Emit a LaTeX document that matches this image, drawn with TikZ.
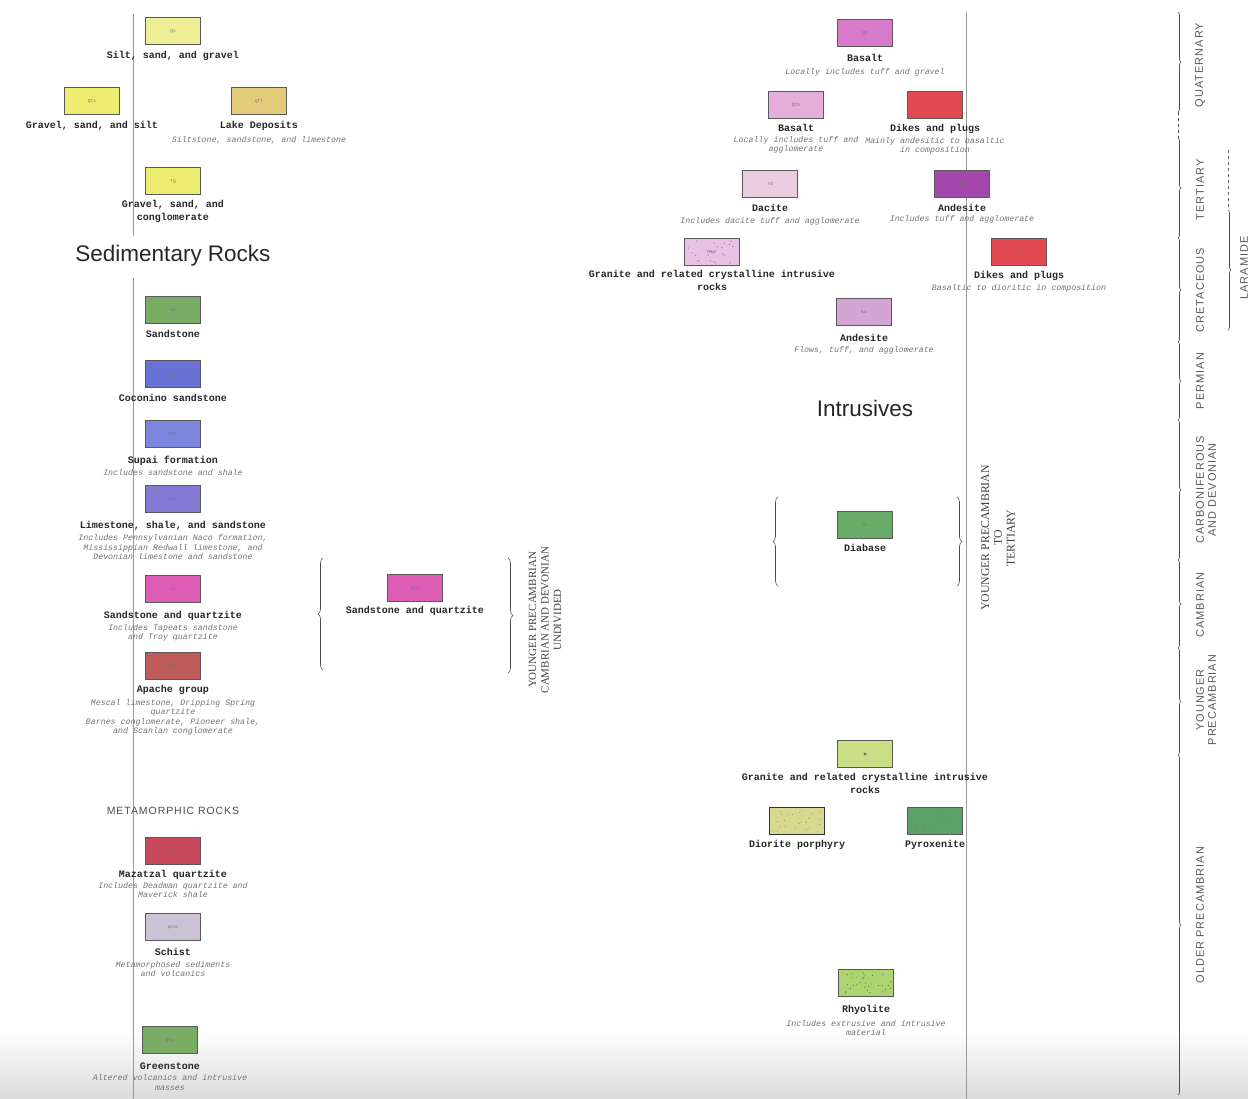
\documentclass[tikz,border=0pt]{standalone}
\usepackage{fontspec}
\setmainfont{Liberation Serif}
\newfontfamily\legendmono{Liberation Mono}
\newfontfamily\capsans[LetterSpace=9]{Liberation Sans}
\newfontfamily\headsans{Liberation Sans}
\usetikzlibrary{positioning,calc,decorations.pathreplacing}

\definecolor{qsyel}{RGB}{238,238,150}
\definecolor{qtyel}{RGB}{236,236,112}
\definecolor{laketan}{RGB}{226,204,122}
\definecolor{ssgreen}{RGB}{122,172,102}
\definecolor{cocblue}{RGB}{104,114,212}
\definecolor{supblue}{RGB}{124,134,222}
\definecolor{limeblue}{RGB}{132,122,212}
\definecolor{tapmag}{RGB}{220,92,182}
\definecolor{apred}{RGB}{190,92,92}
\definecolor{mazred}{RGB}{200,72,92}
\definecolor{schgray}{RGB}{204,194,214}
\definecolor{basmag}{RGB}{216,122,202}
\definecolor{baspink}{RGB}{228,174,218}
\definecolor{dikered}{RGB}{226,72,82}
\definecolor{dacpink}{RGB}{236,204,226}
\definecolor{andpurp}{RGB}{162,72,172}
\definecolor{granpink}{RGB}{232,194,228}
\definecolor{andpink}{RGB}{212,164,212}
\definecolor{diagreen}{RGB}{104,172,104}
\definecolor{grangreen}{RGB}{202,222,134}
\definecolor{dioyel}{RGB}{216,216,142}
\definecolor{pyrgreen}{RGB}{92,162,104}
\definecolor{rhygreen}{RGB}{172,212,112}

\tikzset{
  unitbox/.style={draw=black!65, line width=0.7pt, minimum width=55pt,
    minimum height=27pt, inner sep=0pt, text=black!55,
    font=\legendmono\fontsize{4.5}{5}\selectfont},
  unitname/.style={inner sep=0.5pt, text=black!85, align=center,
    font=\legendmono\bfseries\fontsize{10}{12.5}\selectfont},
  unitnote/.style={inner sep=0.3pt, text=black!55, align=center,
    font=\legendmono\itshape\fontsize{8.3}{9.6}\selectfont},
  agebrace/.style={decorate, decoration={brace, amplitude=5pt},
    draw=black!70, line width=0.6pt},
  agetext/.style={rotate=90, align=center, text=black!75,
    font=\fontsize{11}{12.5}\selectfont},
  periodtext/.style={rotate=90, align=center, text=black!65,
    font=\capsans\fontsize{11}{12}\selectfont},
  heading/.style={font=\headsans\fontsize{22.5}{22.5}\selectfont, text=black!85},
  guide/.style={draw=black!40, line width=0.6pt}
}

\begin{document}
\begin{tikzpicture}[x=1pt, y=-1pt]
\useasboundingbox (0,0) rectangle (1248,1099);
\shade[top color=white, bottom color=black!14] (0,1030) rectangle (1248,1099);

% guide lines
\draw[guide] (133,14) -- (133,236);
\draw[guide] (133,278) -- (133,1099);
\draw[guide] (966,12) -- (966,1099);

% sedimentary rocks
\node[unitbox, fill=qsyel] (qs) at (173,31) {Qs};
\node[unitname, below=6pt of qs] (qsname) {Silt, sand, and gravel};

\node[unitbox, fill=qtyel] (qtg) at (92,101) {QTs};
\node[unitname, below=6pt of qtg] (qtgname) {Gravel, sand, and silt};

\node[unitbox, fill=laketan] (qtl) at (259,101) {QTl};
\node[unitname, below=6pt of qtl] (qtlname) {Lake Deposits};
\node[unitnote, below=4pt of qtlname] {Siltstone, sandstone, and limestone};

\node[unitbox, fill=qtyel] (tg) at (173,181) {Tg};
\node[unitname, below=5pt of tg] (tgname) {Gravel, sand, and\\conglomerate};

\node[heading] (sedhead) at (173,256) {Sedimentary Rocks};

\node[unitbox, fill=ssgreen] (ks) at (173,310) {Ks};
\node[unitname, below=6pt of ks] (ksname) {Sandstone};

\node[unitbox, fill=cocblue] (pc) at (173,374) {Pc};
\node[unitname, below=6pt of pc] (pcname) {Coconino sandstone};

\node[unitbox, fill=supblue] (pps) at (173,434) {PPs};
\node[unitname, below=8pt of pps] (ppsname) {Supai formation};
\node[unitnote, below=2pt of ppsname] {Includes sandstone and shale};

\node[unitbox, fill=limeblue] (cdl) at (173,499) {CDl};
\node[unitname, below=8pt of cdl] (cdlname) {Limestone, shale, and sandstone};
\node[unitnote, below=3pt of cdlname] {Includes Pennsylvanian Naco formation,\\Mississippian Redwall limestone, and\\Devonian limestone and sandstone};

\node[unitbox, fill=tapmag] (ct) at (173,589) {Ct};
\node[unitname, below=8pt of ct] (ctname) {Sandstone and quartzite};
\node[unitnote, below=2pt of ctname] {Includes Tapeats sandstone\\and Troy quartzite};

\node[unitbox, fill=apred] (pca) at (173,666) {pCa};
\node[unitname, below=5pt of pca] (pcaname) {Apache group};
\node[unitnote, below=3pt of pcaname] {Mescal limestone, Dripping Spring\\quartzite\\Barnes conglomerate, Pioneer shale,\\and Scanlan conglomerate};

% undivided unit
\node[unitbox, fill=tapmag] (sq) at (415,588) {pCs};
\node[unitname, below=4pt of sq] (sqname) {Sandstone and quartzite};
\draw[agebrace] (323,670) -- (323,558);
\draw[agebrace] (508,558) -- (508,673);
\node[agetext] (undiv) at (545,620) {YOUNGER PRECAMBRIAN\\CAMBRIAN AND DEVONIAN\\UNDIVIDED};

% metamorphic rocks
\node[text=black!70, font=\capsans\fontsize{10.5}{11}\selectfont] (methead) at (173,811) {METAMORPHIC ROCKS};

\node[unitbox, fill=mazred] (pcm) at (173,851) {pCm};
\node[unitname, below=5pt of pcm] (pcmname) {Mazatzal quartzite};
\node[unitnote, below=1pt of pcmname] {Includes Deadman quartzite and\\Maverick shale};

\node[unitbox, fill=schgray] (pcsc) at (173,927) {pCsc};
\node[unitname, below=7pt of pcsc] (pcscname) {Schist};
\node[unitnote, below=4pt of pcscname] {Metamorphosed sediments\\and volcanics};

\node[unitbox, fill=ssgreen] (pcg) at (170,1040) {pCg};
\node[unitname, below=8pt of pcg] (pcgname) {Greenstone};
\node[unitnote, below=4pt of pcgname] {Altered volcanics and intrusive\\masses};

% volcanic rocks
\node[unitbox, fill=basmag] (qb) at (865,33) {Qb};
\node[unitname, below=7pt of qb] (qbname) {Basalt};
\node[unitnote, below=5pt of qbname] {Locally includes tuff and gravel};

\node[unitbox, fill=baspink] (qtb) at (796,105) {QTb};
\node[unitname, below=5pt of qtb] (qtbname) {Basalt};
\node[unitnote, below=3pt of qtbname] {Locally includes tuff and\\agglomerate};

\node[unitbox, fill=dikered] (qti) at (935,105) {QTi};
\node[unitname, below=5pt of qti] (qtiname) {Dikes and plugs};
\node[unitnote, below=2pt of qtiname] {Mainly andesitic to basaltic\\in composition};

\node[unitbox, fill=dacpink] (td) at (770,184) {Td};
\node[unitname, below=6pt of td] (tdname) {Dacite};
\node[unitnote, below=4pt of tdname] {Includes dacite tuff and agglomerate};

\node[unitbox, fill=andpurp] (ta) at (962,184) {Ta};
\node[unitname, below=6pt of ta] (taname) {Andesite};
\node[unitnote, below=2pt of taname] {Includes tuff and agglomerate};

\node[unitbox, fill=granpink] (tkgr) at (712,252) {};
\pgfmathsetseed{7}
\foreach \i in {1,...,22}
  \fill[black!45] ($(tkgr.center)+(rand*25,rand*11)$) circle (0.7pt);
\node[font=\legendmono\fontsize{4.5}{5}\selectfont, text=black!55] at (tkgr.center) {TKgr};
\node[unitname, below=4pt of tkgr] (tkgrname) {Granite and related crystalline intrusive\\rocks};

\node[unitbox, fill=dikered] (ti) at (1019,252) {Ti};
\node[unitname, below=5pt of ti] (tiname) {Dikes and plugs};
\node[unitnote, below=2pt of tiname] {Basaltic to dioritic in composition};

\node[unitbox, fill=andpink] (ka) at (864,312) {};
\foreach \i in {1,...,26}
  \fill[black!30] ($(ka.center)+(rand*25,rand*11)$) circle (0.5pt);
\node[font=\legendmono\fontsize{4.5}{5}\selectfont, text=black!55] at (ka.center) {Ka};
\node[unitname, below=8pt of ka] (kaname) {Andesite};
\node[unitnote, below=3pt of kaname] {Flows, tuff, and agglomerate};

\node[heading] (inthead) at (865,408) {Intrusives};

% intrusive rocks
\node[unitbox, fill=diagreen] (db) at (865,525) {db};
\node[unitname, below=5pt of db] (dbname) {Diabase};
\draw[agebrace] (778,586) -- (778,497);
\draw[agebrace] (957,497) -- (957,586);
\node[agetext, font=\fontsize{11.8}{12.8}\selectfont] (youngtert) at (998,538) {YOUNGER PRECAMBRIAN\\TO\\TERTIARY};

\node[unitbox, fill=grangreen] (pcgr) at (865,754) {};
\fill[black!55] (pcgr.center) circle (1.6pt);
\node[unitname, below=5pt of pcgr] (pcgrname) {Granite and related crystalline intrusive\\rocks};

\node[unitbox, fill=dioyel, draw=black!80] (pcdp) at (797,821) {};
\foreach \i in {1,...,30}
  \fill[black!45] ($(pcdp.center)+(rand*25,rand*11)$) circle (0.5pt);
\node[unitname, below=5pt of pcdp] (pcdpname) {Diorite porphyry};

\node[unitbox, fill=pyrgreen] (pcp) at (935,821) {};
\foreach \i in {1,...,24}
  \fill[black!55] ($(pcp.center)+(rand*25,rand*11)$) circle (0.5pt);
\node[unitname, below=5pt of pcp] (pcpname) {Pyroxenite};

\node[unitbox, fill=rhygreen] (pcr) at (866,983) {};
\foreach \i in {1,...,30}
  \fill[black!60] ($(pcr.center)+(rand*25,rand*11)$) circle (0.6pt);
\node[unitname, below=8pt of pcr] (pcrname) {Rhyolite};
\node[unitnote, below=4pt of pcrname] {Includes extrusive and intrusive\\material};

% time scale
\foreach \top/\bot in {12/112, 138/238, 238/342, 342/420, 420/560, 560/648, 648/755, 755/1095}
  \draw[agebrace, decoration={brace, amplitude=3pt}] (1178,\top) -- (1178,\bot);
\draw[black!70, line width=0.6pt, dashed] (1178,112) -- (1178,138);
\node[periodtext] (quat) at (1200,65) {QUATERNARY};
\node[periodtext] (tert) at (1200,190) {TERTIARY};
\node[periodtext] (cret) at (1200,290) {CRETACEOUS};
\node[periodtext] (perm) at (1200,381) {PERMIAN};
\node[periodtext] (carb) at (1206,490) {CARBONIFEROUS\\AND DEVONIAN};
\node[periodtext] (camb) at (1200,605) {CAMBRIAN};
\node[periodtext] (ypc) at (1206,700) {YOUNGER\\PRECAMBRIAN};
\node[periodtext] (opc) at (1200,915) {OLDER PRECAMBRIAN};
\draw[agebrace, decoration={brace, amplitude=3pt}] (1228,210) -- (1228,330);
\draw[black!60, dashed] (1228,150) -- (1228,210);
\node[periodtext] (lara) at (1244,268) {LARAMIDE};
\end{tikzpicture}
\end{document}
